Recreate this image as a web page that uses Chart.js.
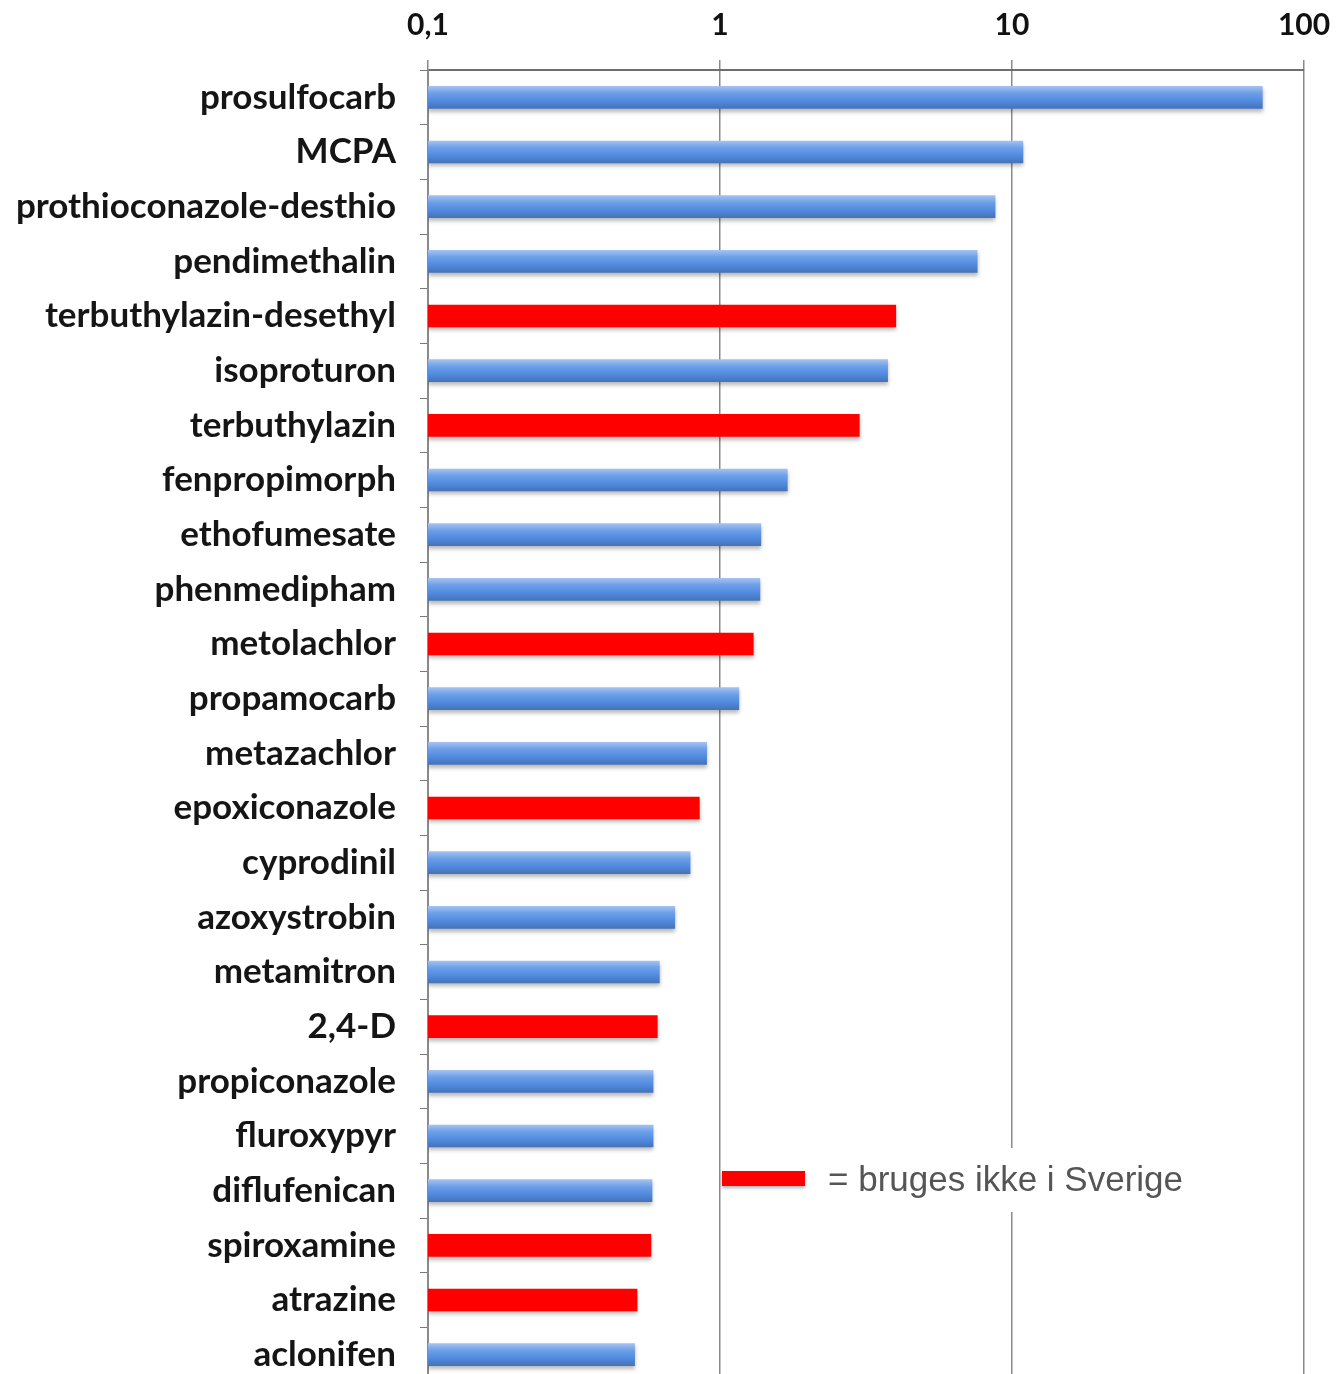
<!DOCTYPE html>
<html>
<head>
<meta charset="utf-8">
<script src="https://cdn.jsdelivr.net/npm/chart.js@4.4.0/dist/chart.umd.min.js"></script>
<style>
    html, body { margin: 0; padding: 0; background: #fff; overflow: hidden; }
</style>
</head>
<body>
<canvas id="pesticideChart" width="1336" height="1382"></canvas>
<script>
// Chart data
const substances = [
    'prosulfocarb', 'MCPA', 'prothioconazole-desthio', 'pendimethalin',
    'terbuthylazin-desethyl', 'isoproturon', 'terbuthylazin', 'fenpropimorph',
    'ethofumesate', 'phenmedipham', 'metolachlor', 'propamocarb',
    'metazachlor', 'epoxiconazole', 'cyprodinil', 'azoxystrobin',
    'metamitron', '2,4-D', 'propiconazole', 'fluroxypyr',
    'diflufenican', 'spiroxamine', 'atrazine', 'aclonifen'
];
const amounts = [
    72, 10.9, 8.75, 7.6,
    4.0, 3.75, 3.0, 1.7,
    1.38, 1.37, 1.3, 1.16,
    0.9, 0.85, 0.79, 0.7,
    0.62, 0.61, 0.59, 0.59,
    0.585, 0.58, 0.52, 0.51
];
// true = bruges ikke i Sverige
const notUsedInSweden = [
    false, false, false, false,
    true, false, true, false,
    false, false, true, false,
    false, true, false, false,
    false, true, false, false,
    false, true, true, false
];
const axisTicks = [0.1, 1, 10, 100];
const legendText = '= bruges ikke i Sverige';

const BAR_THICKNESS = 22;

// Blue bars get a vertical gradient, red ones are flat
function barColor(context) {
    const chart = context.chart;
    if (notUsedInSweden[context.dataIndex]) return '#ff0000';
    const yScale = chart.scales.y;
    if (!yScale) return '#5b93e0';
    const yc = yScale.getPixelForValue(context.dataIndex);
    if (!Number.isFinite(yc)) return '#5b93e0';
    const g = chart.ctx.createLinearGradient(0, yc - BAR_THICKNESS / 2, 0, yc + BAR_THICKNESS / 2);
    g.addColorStop(0, '#a4c2f0');
    g.addColorStop(0.3, '#6ea0e8');
    g.addColorStop(0.65, '#518be0');
    g.addColorStop(1, '#4573b8');
    return g;
}

// Soft shadow under the bars
const barShadow = {
    id: 'barShadow',
    beforeDatasetsDraw(chart) {
        const ctx = chart.ctx;
        ctx.save();
        ctx.shadowColor = 'rgba(0, 0, 0, 0.28)';
        ctx.shadowBlur = 4;
        ctx.shadowOffsetY = 3;
    },
    afterDatasetsDraw(chart) {
        chart.ctx.restore();
    }
};

// Hand-drawn legend inside the plot
const legendNote = {
    id: 'legendNote',
    afterDraw(chart) {
        const ctx = chart.ctx;
        const x = chart.scales.x.getPixelForValue(1) + 2;
        const y = 1180;
        ctx.save();
        ctx.fillStyle = '#ffffff';
        ctx.fillRect(x, y - 32, 480, 64);
        ctx.shadowColor = 'rgba(0, 0, 0, 0.3)';
        ctx.shadowBlur = 3;
        ctx.shadowOffsetY = 2;
        ctx.fillStyle = '#ff0000';
        ctx.fillRect(x, y - 9, 83, 15);
        ctx.shadowColor = 'transparent';
        ctx.fillStyle = '#555555';
        ctx.font = '35px "Liberation Sans", Arial, sans-serif';
        ctx.textBaseline = 'middle';
        ctx.textAlign = 'left';
        ctx.fillText(legendText, x + 106, y + 1);
        ctx.restore();
    }
};

function initializeChart() {
    const ctx = document.getElementById('pesticideChart').getContext('2d');
    new Chart(ctx, {
        type: 'bar',
        data: {
            labels: substances,
            datasets: [{
                data: amounts,
                backgroundColor: barColor,
                borderWidth: 0,
                barThickness: BAR_THICKNESS
            }]
        },
        options: {
            indexAxis: 'y',
            responsive: false,
            animation: false,
            devicePixelRatio: 1,
            layout: { padding: { left: 0, right: 32, top: 0, bottom: 0 } },
            plugins: {
                legend: { display: false },
                tooltip: { enabled: false }
            },
            scales: {
                x: {
                    type: 'logarithmic',
                    position: 'top',
                    min: 0.1,
                    max: 100,
                    afterBuildTicks: (scale) => {
                        scale.ticks = axisTicks.map(v => ({ value: v }));
                    },
                    afterFit: (scale) => {
                        scale.height = 70;
                        scale.paddingLeft = 0;
                        scale.paddingRight = 0;
                    },
                    ticks: {
                        padding: 17,
                        color: '#111',
                        font: { family: 'Lato', size: 30, weight: 'bold' },
                        callback: (v) => String(v).replace('.', ',')
                    },
                    grid: {
                        color: '#8a8a8a',
                        lineWidth: 1.5,
                        tickLength: 10
                    },
                    border: { color: '#6e6e6e', width: 2 }
                },
                y: {
                    afterFit: (scale) => {
                        scale.width = 428;
                        scale.paddingTop = 0;
                        scale.paddingBottom = 0;
                    },
                    ticks: {
                        padding: 24,
                        color: '#151515',
                        font: { family: 'Lato', size: 35, weight: 'bold' }
                    },
                    grid: {
                        drawOnChartArea: false,
                        color: '#7a7a7a',
                        tickLength: 8
                    },
                    border: { color: '#8a8a8a', width: 2 }
                }
            }
        },
        plugins: [barShadow, legendNote]
    });
}

document.addEventListener('DOMContentLoaded', initializeChart);
</script>
</body>
</html>
